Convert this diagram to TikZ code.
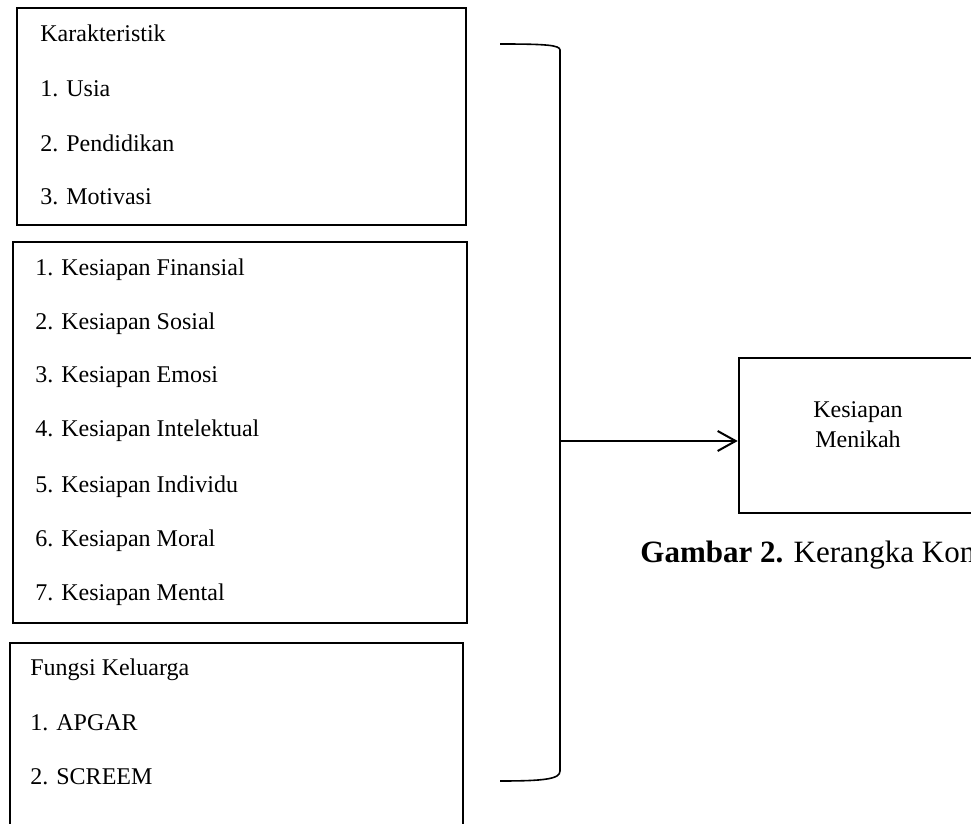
\documentclass[tikz,border=0pt]{standalone}
\usepackage{fontspec}
\setmainfont{Liberation Serif}
\usetikzlibrary{arrows.meta}
\begin{document}
\begin{tikzpicture}[x=0.5pt,y=-0.5pt,
  box/.style={draw=black, line width=1.3pt, inner sep=0pt, fill=none},
  lbl/.style={anchor=base west, inner sep=0pt, font=\fontsize{12pt}{15pt}\selectfont},
  clbl/.style={anchor=base, inner sep=0pt, font=\fontsize{12pt}{15pt}\selectfont},
  brace/.style={draw=black, line width=0.8pt},
  conn/.style={draw=black, line width=1pt, -{Straight Barb[length=9pt,width=10pt,line width=1pt]}}]
\useasboundingbox (0,0) rectangle (971,824);
\fill[white] (0,0) rectangle (971,824);
\clip (0,0) rectangle (971,824);
% boxes
\node[box, minimum width=224.5pt, minimum height=108.5pt] (b1) at (241.5,116.5) {};
\node[box, minimum width=227pt, minimum height=190.5pt] (b2) at (240,432.5) {};
\node[box, minimum width=226.5pt, minimum height=98pt] (b3) at (236.5,741) {};
\node[box, minimum width=119pt, minimum height=77.5pt] (b4) at (858,435.5) {};
% box 1 texts
\node[lbl] (t11) at (40,42) {Karakteristik};
\node[lbl] (t12) at (40,97) {1. Usia};
\node[lbl] (t13) at (40,152) {2. Pendidikan};
\node[lbl] (t14) at (40,205) {3. Motivasi};
% box 2 texts
\node[lbl] (t21) at (35,276) {1. Kesiapan Finansial};
\node[lbl] (t22) at (35,329) {2. Kesiapan Sosial};
\node[lbl] (t23) at (35,383) {3. Kesiapan Emosi};
\node[lbl] (t24) at (35,437) {4. Kesiapan Intelektual};
\node[lbl] (t25) at (35,492) {5. Kesiapan Individu};
\node[lbl] (t26) at (35,546) {6. Kesiapan Moral};
\node[lbl] (t27) at (35,600) {7. Kesiapan Mental};
% box 3 texts
\node[lbl] (t31) at (30,675) {Fungsi Keluarga};
\node[lbl] (t32) at (30,730) {1. APGAR};
\node[lbl] (t33) at (30,784) {2. SCREEM};
% box 4 texts
\node[clbl] (t41) at (858,417) {Kesiapan};
\node[clbl] (t42) at (858,447) {Menikah};
% bracket
\coordinate (bt) at (500,44);
\coordinate (btc) at (560,50);
\coordinate (bbc) at (560,771);
\coordinate (bb) at (500,781);
\coordinate (brk) at (560,441);
\draw[brace] (bt) .. controls (545,44) and (560,45) .. (btc) -- (bbc) .. controls (560,779) and (545,781) .. (bb);
% arrow
\draw[conn] (brk) -- (brk -| b4.west);
% caption
\node[anchor=base west, inner sep=0pt, font=\fontsize{15.5pt}{19pt}\selectfont] (cap) at (640,562) {\textbf{Gambar 2.} Kerangka Konsep};
\end{tikzpicture}
\end{document}
